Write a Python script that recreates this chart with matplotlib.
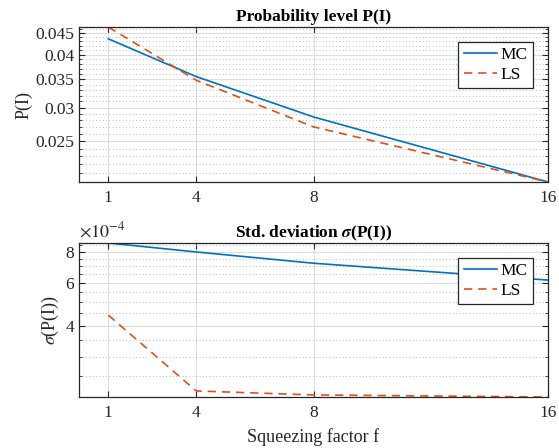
import numpy as np
import matplotlib
matplotlib.use('Agg')
import matplotlib.pyplot as plt
from matplotlib.ticker import FixedLocator, MultipleLocator, FuncFormatter, NullFormatter

plt.rcParams['font.family'] = ['Liberation Serif', 'DejaVu Serif']
plt.rcParams['mathtext.fontset'] = 'stix'
plt.rcParams['font.size'] = 12

# squeezing factors
f = [1, 4, 8, 16]

# probability level P(I)
p_mc = [0.0436, 0.0355, 0.0285, 0.0200]
p_ls = [0.0465, 0.0348, 0.0270, 0.0200]

# std. deviation of P(I)
s_mc = [8.70e-4, 8.00e-4, 7.20e-4, 6.15e-4]
s_ls = [4.43e-4, 2.18e-4, 2.10e-4, 2.06e-4]

blue = '#0072BD'
orange = '#D95319'
axcol = '#262626'

fig = plt.figure(figsize=(5.59, 4.48), dpi=100)
ax1 = fig.add_axes([79/559, 1-182/448, 469/559, 155/448])
ax2 = fig.add_axes([79/559, 1-397/448, 469/559, 154/448])


def style(ax):
    ax.set_yscale('log')
    ax.set_xlim(0, 16)
    ax.set_xticks([1, 4, 8, 16])
    ax.tick_params(which='both', direction='in', top=True, right=True,
                   colors=axcol, labelcolor=axcol, labelsize=12.5)
    ax.tick_params(which='major', length=4)
    ax.tick_params(which='minor', length=2.5)
    ax.tick_params(axis='x', pad=6)
    ax.xaxis.set_minor_locator(FixedLocator([]))
    ax.grid(True, which='major', color='#dedede', linewidth=0.8)
    ax.grid(True, which='minor', axis='y', color='#a8a8a8', linewidth=0.6,
            linestyle=(0, (1, 3)))
    ax.set_axisbelow(True)
    for s in ax.spines.values():
        s.set_color(axcol)
        s.set_linewidth(0.9)


def add_legend(ax):
    leg = ax.legend(loc='upper right', fancybox=False, edgecolor=axcol,
                    framealpha=1, fontsize=12.5, handlelength=1.9,
                    borderaxespad=0.85, borderpad=0.3, labelspacing=0.2,
                    handletextpad=0.25)
    leg.get_frame().set_linewidth(0.9)


# top panel
ax1.plot(f, p_mc, color=blue, lw=1.2, label='MC')
ax1.plot(f, p_ls, color=orange, lw=1.2, ls=(0, (5, 3.5)), label='LS')
style(ax1)
ax1.set_ylim(min(p_mc + p_ls), max(p_mc + p_ls))
ax1.yaxis.set_major_locator(FixedLocator([0.025, 0.03, 0.035, 0.04, 0.045]))
ax1.yaxis.set_major_formatter(FuncFormatter(lambda v, _: ('%g' % v)))
ax1.yaxis.set_minor_locator(MultipleLocator(0.001))
ax1.yaxis.set_minor_formatter(NullFormatter())
ax1.set_ylabel('P(I)', fontsize=13, labelpad=2, color=axcol)
ax1.set_title('Probability level P(I)', fontweight='bold', fontsize=12.5, pad=4)
add_legend(ax1)

# bottom panel
ax2.plot(f, s_mc, color=blue, lw=1.2, label='MC')
ax2.plot(f, s_ls, color=orange, lw=1.2, ls=(0, (5, 3.5)), label='LS')
style(ax2)
ax2.set_ylim(min(s_mc + s_ls), max(s_mc + s_ls))
ax2.yaxis.set_major_locator(FixedLocator([4e-4, 6e-4, 8e-4]))
ax2.yaxis.set_major_formatter(FuncFormatter(lambda v, _: '%g' % (v * 1e4)))
ax2.yaxis.set_minor_locator(MultipleLocator(0.5e-4))
ax2.yaxis.set_minor_formatter(NullFormatter())
ax2.set_ylabel(r'$\sigma$(P(I))', fontsize=13, labelpad=3, color=axcol)
ax2.set_title(r'Std. deviation $\boldsymbol{\sigma}$(P(I))', fontweight='bold',
              fontsize=12.5, pad=4)
ax2.text(0.0, 1.01, r'$\times10^{-4}$', transform=ax2.transAxes,
         fontsize=13, color=axcol, ha='left', va='bottom')
ax2.set_xlabel('Squeezing factor f', fontsize=13, labelpad=5, color=axcol)
add_legend(ax2)

fig.savefig('out.png', dpi=100)
